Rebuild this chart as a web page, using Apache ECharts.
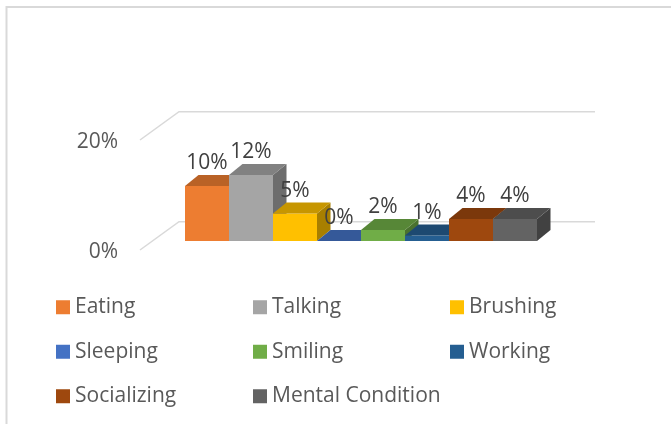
<!DOCTYPE html>
<html><head><meta charset="utf-8">
<script src="https://cdn.jsdelivr.net/npm/echarts@6/dist/echarts.min.js"></script>
<style>html,body{margin:0;padding:0;background:#fff}#c{width:671px;height:424px}</style>
</head><body><div id="c"></div>
<script>
// ---- data ----
const categories = ['Eating', 'Talking', 'Brushing', 'Sleeping', 'Smiling', 'Working', 'Socializing', 'Mental Condition'];
const values = [10, 12, 5, 0, 2, 1, 4, 4];
const colors = ['#ED7D31', '#A5A5A5', '#FFC000', '#4472C4', '#70AD47', '#255E91', '#9E480E', '#636363'];
const yTicks = [0, 20];

// ---- styles ----
const FONT = "'Open Sans', 'Liberation Sans', sans-serif";
const DX = 13.5, DY = 11;          // bar depth (oblique projection)
const WALL_BACK_DY = 19.3, FLOOR_FRONT_DY = 9;

function shade(hex, f) {
  const n = parseInt(hex.slice(1), 16);
  const r = Math.round(((n >> 16) & 255) * f), g = Math.round(((n >> 8) & 255) * f), b = Math.round((n & 255) * f);
  return 'rgb(' + r + ',' + g + ',' + b + ')';
}

function renderBar(params, api) {
  const idx = api.value(0), v = api.value(1);
  const base = api.coord([idx, 0]);
  const top = api.coord([idx, v]);
  const w = api.size([1, 0])[0];
  const x0 = base[0] - w / 2, x1 = base[0] + w / 2;
  const yb = base[1], yt = top[1];
  const c = colors[params.seriesIndex - 1];
  return {
    type: 'group',
    children: [
      { type: 'rect', shape: { x: x0, y: yt, width: w, height: yb - yt }, style: { fill: c } },
      { type: 'polygon', shape: { points: [[x1, yb], [x1 + DX, yb - DY], [x1 + DX, yt - DY], [x1, yt]] }, style: { fill: shade(c, 0.66) } },
      { type: 'polygon', shape: { points: [[x0, yt], [x0 + DX, yt - DY], [x1 + DX, yt - DY], [x1, yt]] }, style: { fill: shade(c, 0.78) } },
      { type: 'text', style: { x: base[0], y: yt - DY - 1, text: v + '%', fill: '#404040', font: '21px ' + FONT, align: 'center', verticalAlign: 'bottom' } }
    ]
  };
}

function renderWall(params, api) {
  const cs = params.coordSys;
  const y = api.coord([0, api.value(1)])[1];
  return {
    type: 'polyline',
    shape: { points: [[cs.x - 45, y + FLOOR_FRONT_DY], [cs.x - 6, y - WALL_BACK_DY], [cs.x + cs.width + 58, y - WALL_BACK_DY]] },
    style: { stroke: '#D9D9D9', lineWidth: 1.5, fill: null }
  };
}

const series = [{
  type: 'custom', name: '__wall', silent: true, z: 1,
  data: yTicks.map(t => [0, t]), renderItem: renderWall
}];
categories.forEach((name, i) => {
  series.push({
    type: 'custom', name: name, z: 2,
    itemStyle: { color: colors[i] },
    data: [[i, values[i]]],
    renderItem: renderBar
  });
});

const chart = echarts.init(document.getElementById('c'), null, { renderer: 'canvas' });
chart.setOption({
  animation: false,
  backgroundColor: '#fff',
  graphic: [{
    type: 'polyline', shape: { points: [[6.5, 424], [6.5, 7], [671, 7]] },
    style: { stroke: '#D9D9D9', lineWidth: 2, fill: null }
  }],
  grid: { left: 185, right: 134, top: 131, bottom: 183 },
  xAxis: { type: 'category', data: categories, show: false },
  yAxis: {
    type: 'value', min: 0, max: 20, interval: 20,
    axisLine: { show: false }, axisTick: { show: false }, splitLine: { show: false },
    axisLabel: { formatter: '{value}%', margin: 67, color: '#595959', fontSize: 21, fontFamily: FONT, verticalAlign: 'top', lineHeight: 22 }
  },
  legend: {
    data: categories,
    left: 56, top: 290, width: 600, padding: 0,
    icon: 'rect', itemWidth: 14, itemHeight: 14, itemGap: 10,
    textStyle: { fontSize: 21, color: '#595959', fontFamily: FONT, width: 168, lineHeight: 34.5 }
  },
  series: series
});
</script></body></html>
